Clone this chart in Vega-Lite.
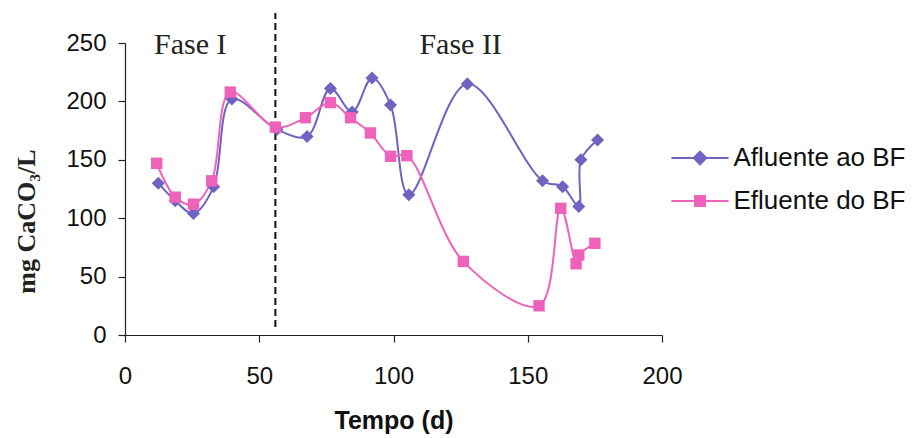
{
  "$schema": "https://vega.github.io/schema/vega-lite/v6.json",
  "width": 537,
  "height": 292,
  "autosize": {"type": "none"},
  "padding": {"left": 125, "top": 43, "right": 251, "bottom": 103},
  "background": "white",
  "config": {
    "view": {"stroke": null},
    "axis": {"grid": false, "domainColor": "#222", "tickColor": "#222", "labelColor": "#111", "labelFont": "Liberation Sans", "labelFontSize": 24, "domainWidth": 1.2, "tickWidth": 1.2, "tickSize": 7, "labelFlush": false}
  },
  "datasets": {
    "series": [
      {"serie": "Afluente ao BF", "t": 12.4, "v": 130},
      {"serie": "Afluente ao BF", "t": 18.7, "v": 115},
      {"serie": "Afluente ao BF", "t": 25.5, "v": 104},
      {"serie": "Afluente ao BF", "t": 33, "v": 127},
      {"serie": "Afluente ao BF", "t": 39.8, "v": 202},
      {"serie": "Afluente ao BF", "t": 56.6, "v": 176},
      {"serie": "Afluente ao BF", "t": 67.8, "v": 170},
      {"serie": "Afluente ao BF", "t": 76.5, "v": 211},
      {"serie": "Afluente ao BF", "t": 84.6, "v": 191},
      {"serie": "Afluente ao BF", "t": 92, "v": 220},
      {"serie": "Afluente ao BF", "t": 98.9, "v": 197},
      {"serie": "Afluente ao BF", "t": 105.7, "v": 120},
      {"serie": "Afluente ao BF", "t": 127.5, "v": 215},
      {"serie": "Afluente ao BF", "t": 155.5, "v": 132},
      {"serie": "Afluente ao BF", "t": 163, "v": 127},
      {"serie": "Afluente ao BF", "t": 169, "v": 110},
      {"serie": "Afluente ao BF", "t": 169.8, "v": 150},
      {"serie": "Afluente ao BF", "t": 176, "v": 167},
      {"serie": "Efluente do BF", "t": 11.8, "v": 147},
      {"serie": "Efluente do BF", "t": 18.7, "v": 118},
      {"serie": "Efluente do BF", "t": 25.5, "v": 112},
      {"serie": "Efluente do BF", "t": 32.3, "v": 132},
      {"serie": "Efluente do BF", "t": 39.2, "v": 208},
      {"serie": "Efluente do BF", "t": 56, "v": 178},
      {"serie": "Efluente do BF", "t": 67.2, "v": 186},
      {"serie": "Efluente do BF", "t": 76.5, "v": 199},
      {"serie": "Efluente do BF", "t": 84, "v": 186},
      {"serie": "Efluente do BF", "t": 91.4, "v": 173},
      {"serie": "Efluente do BF", "t": 98.9, "v": 153},
      {"serie": "Efluente do BF", "t": 105, "v": 153.5},
      {"serie": "Efluente do BF", "t": 126, "v": 63},
      {"serie": "Efluente do BF", "t": 154.2, "v": 25},
      {"serie": "Efluente do BF", "t": 162.3, "v": 108.5},
      {"serie": "Efluente do BF", "t": 168, "v": 61},
      {"serie": "Efluente do BF", "t": 169, "v": 68.5},
      {"serie": "Efluente do BF", "t": 175, "v": 78.5}
    ],
    "phases": [
      {"t": 24.3, "v": 248, "label": "Fase I"},
      {"t": 125, "v": 248, "label": "Fase II"}
    ],
    "divider": [{"t": 56, "v": 6.8, "v2": 275.7}]
  },
  "layer": [
    {
      "data": {"name": "divider"},
      "mark": {"type": "rule", "strokeDash": [7, 4], "strokeWidth": 2, "color": "#111", "clip": false},
      "encoding": {
        "x": {"field": "t", "type": "quantitative", "scale": {"domain": [0, 200], "nice": false}},
        "y": {"field": "v", "type": "quantitative", "scale": {"domain": [0, 250], "nice": false}},
        "y2": {"field": "v2"}
      }
    },
    {
      "data": {"name": "series"},
      "mark": {"type": "line", "interpolate": "catmull-rom", "strokeWidth": 2},
      "encoding": {
        "x": {"field": "t", "type": "quantitative", "scale": {"domain": [0, 200], "nice": false},
          "axis": {"values": [0, 50, 100, 150, 200], "title": "Tempo (d)", "titleFont": "Liberation Sans", "titleFontSize": 25, "titleFontWeight": "bold", "titleColor": "#111", "titlePadding": 20, "labelPadding": 22}},
        "y": {"field": "v", "type": "quantitative", "scale": {"domain": [0, 250], "nice": false},
          "axis": {"values": [0, 50, 100, 150, 200, 250], "title": "mg CaCO₃/L", "titleFont": "Liberation Serif", "titleFontSize": 26, "titleFontWeight": "bold", "titleColor": "#222", "titleX": -86, "titleY": 178, "labelPadding": 12}},
        "color": {
          "field": "serie", "type": "nominal",
          "scale": {"domain": ["Afluente ao BF", "Efluente do BF"], "range": ["#6f63c2", "#ee62bb"]},
          "legend": {
            "orient": "none", "legendX": 551.5, "legendY": 91.5, "title": null,
            "labelFontSize": 26, "labelFont": "Liberation Sans", "labelColor": "#111", "labelLimit": 0,
            "symbolSize": 2025, "labelOffset": 10, "rowPadding": 6, "symbolStrokeWidth": 2,
            "encode": {
              "symbols": {
                "update": {
                  "shape": {"signal": "datum.value === 'Afluente ao BF' ? 'M-1.27,0H1.27M0,-0.28L0.28,0L0,0.28L-0.28,0Z' : 'M-1.27,0H1.27M-0.22,-0.22H0.22V0.22H-0.22Z'"},
                  "fill": {"scale": "color", "field": "value"},
                  "stroke": {"scale": "color", "field": "value"},
                  "fillOpacity": {"value": 1},
                  "strokeOpacity": {"value": 1},
                  "strokeWidth": {"value": 2}
                }
              }
            }
          }
        }
      }
    },
    {
      "data": {"name": "series"},
      "mark": {"type": "point", "filled": true, "opacity": 1},
      "encoding": {
        "x": {"field": "t", "type": "quantitative"},
        "y": {"field": "v", "type": "quantitative"},
        "color": {"field": "serie", "type": "nominal"},
        "shape": {"condition": {"test": "datum.serie === 'Afluente ao BF'", "value": "diamond"}, "value": "square"},
        "size": {"condition": {"test": "datum.serie === 'Afluente ao BF'", "value": 170}, "value": 130}
      }
    },
    {
      "data": {"name": "phases"},
      "mark": {"type": "text", "font": "Liberation Serif", "fontSize": 30, "color": "#222", "baseline": "middle", "align": "center"},
      "encoding": {
        "x": {"field": "t", "type": "quantitative"},
        "y": {"field": "v", "type": "quantitative"},
        "text": {"field": "label"}
      }
    }
  ]
}
